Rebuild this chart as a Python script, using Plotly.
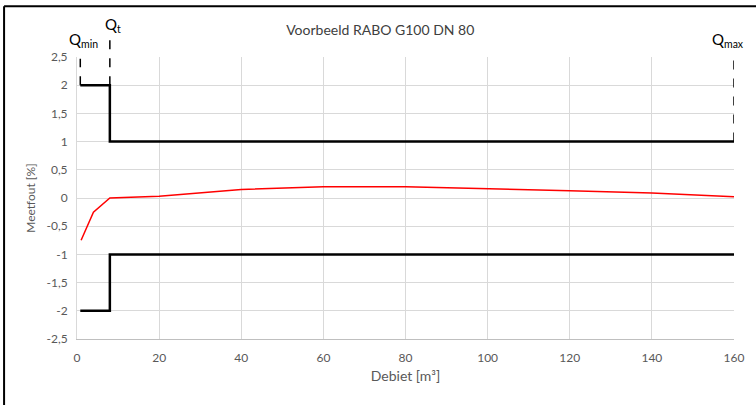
import plotly.graph_objects as go

# meetpunten (debiet m3, meetfout %)
debiet = [1, 4, 8, 20, 40, 60, 80, 100, 120, 140, 160]
meetfout = [-0.75, -0.25, 0.0, 0.03, 0.15, 0.2, 0.2, 0.17, 0.13, 0.09, 0.02]

# foutgrenzen
q_min, q_t, q_max = 0.8, 8, 160
grens_x = [q_min, q_t, q_t, q_max]
grens_boven = [2, 2, 1, 1]
grens_onder = [-2, -2, -1, -1]

# gestippelde markeringen: (x, onder, boven, label)
markeringen = [
    (q_min, 2, 2.47, "Q<sub>min</sub>"),
    (q_t, 2, 2.8, "Q<sub>t</sub>"),
    (q_max, 1, 2.47, "Q<sub>max</sub>"),
]

y_range = [-2.5, 2.5]
y_ticks = [-2.5, -2, -1.5, -1, -0.5, 0, 0.5, 1, 1.5, 2, 2.5]
y_labels = ["-2,5", "-2", "-1,5", "-1", "-0,5", "0", "0,5", "1", "1,5", "2", "2,5"]
x_ticks = [0, 20, 40, 60, 80, 100, 120, 140, 160]

FONT = "Lato, Open Sans, sans-serif"
GRID = "#d9d9d9"


def naar_paper(v):
    # y-waarde omzetten naar paper-coordinaat, zodat markeringen boven de as niet wegvallen
    return (v - y_range[0]) / (y_range[1] - y_range[0])


fig = go.Figure()
fig.add_trace(go.Scatter(x=grens_x, y=grens_boven, mode="lines",
                         line=dict(color="black", width=2.5), showlegend=False))
fig.add_trace(go.Scatter(x=grens_x, y=grens_onder, mode="lines",
                         line=dict(color="black", width=2.5), showlegend=False))
fig.add_trace(go.Scatter(x=debiet, y=meetfout, mode="lines",
                         line=dict(color="#ff0000", width=1.5), showlegend=False))

shapes = []
annotations = []
for x, y0, y1, label in markeringen:
    shapes.append(dict(type="line", xref="x", yref="paper", x0=x, x1=x,
                       y0=naar_paper(y0), y1=naar_paper(y1),
                       line=dict(color="black", width=1.5, dash="dash")))
    annotations.append(dict(x=x, y=naar_paper(y1), xref="x", yref="paper", text=label,
                            showarrow=False, yanchor="bottom",
                            yshift=3 if x == q_t else 7,
                            xshift=-6 if x == q_max else 3,
                            font=dict(family=FONT, size=15, color="black")))

# kader rond de grafiek (links en boven)
shapes.append(dict(type="line", xref="paper", yref="paper", x0=-0.111, x1=1.05,
                   y0=1.18, y1=1.18, line=dict(color="black", width=2)))
shapes.append(dict(type="line", xref="paper", yref="paper", x0=-0.111, x1=-0.111,
                   y0=-0.3, y1=1.18, line=dict(color="black", width=2)))

fig.update_layout(
    width=756, height=405,
    margin=dict(l=77, r=22, t=57, b=66),
    paper_bgcolor="white", plot_bgcolor="white",
    font=dict(family=FONT, size=12, color="#595959"),
    title=dict(text="Voorbeeld RABO G100 DN 80", x=0.503, xanchor="center",
               y=0.925, yanchor="middle",
               font=dict(family=FONT, size=14, color="#404040")),
    shapes=shapes, annotations=annotations,
    xaxis=dict(range=[0, 160], tickvals=x_ticks, showgrid=True, gridcolor=GRID,
               zeroline=False, showline=True, linecolor="#bfbfbf",
               ticklabelstandoff=8,
               title=dict(text="Debiet [m³]", font=dict(size=14), standoff=6)),
    yaxis=dict(range=y_range, tickvals=y_ticks, ticktext=y_labels,
               showgrid=True, gridcolor=GRID, zeroline=False, showline=True,
               linecolor="#d9d9d9", ticklabelstandoff=6,
               title=dict(text="Meetfout [%]", font=dict(size=12), standoff=8)),
)

fig.write_html("out.html", config={"displayModeBar": False},
               post_script="document.body.style.margin='0';")
